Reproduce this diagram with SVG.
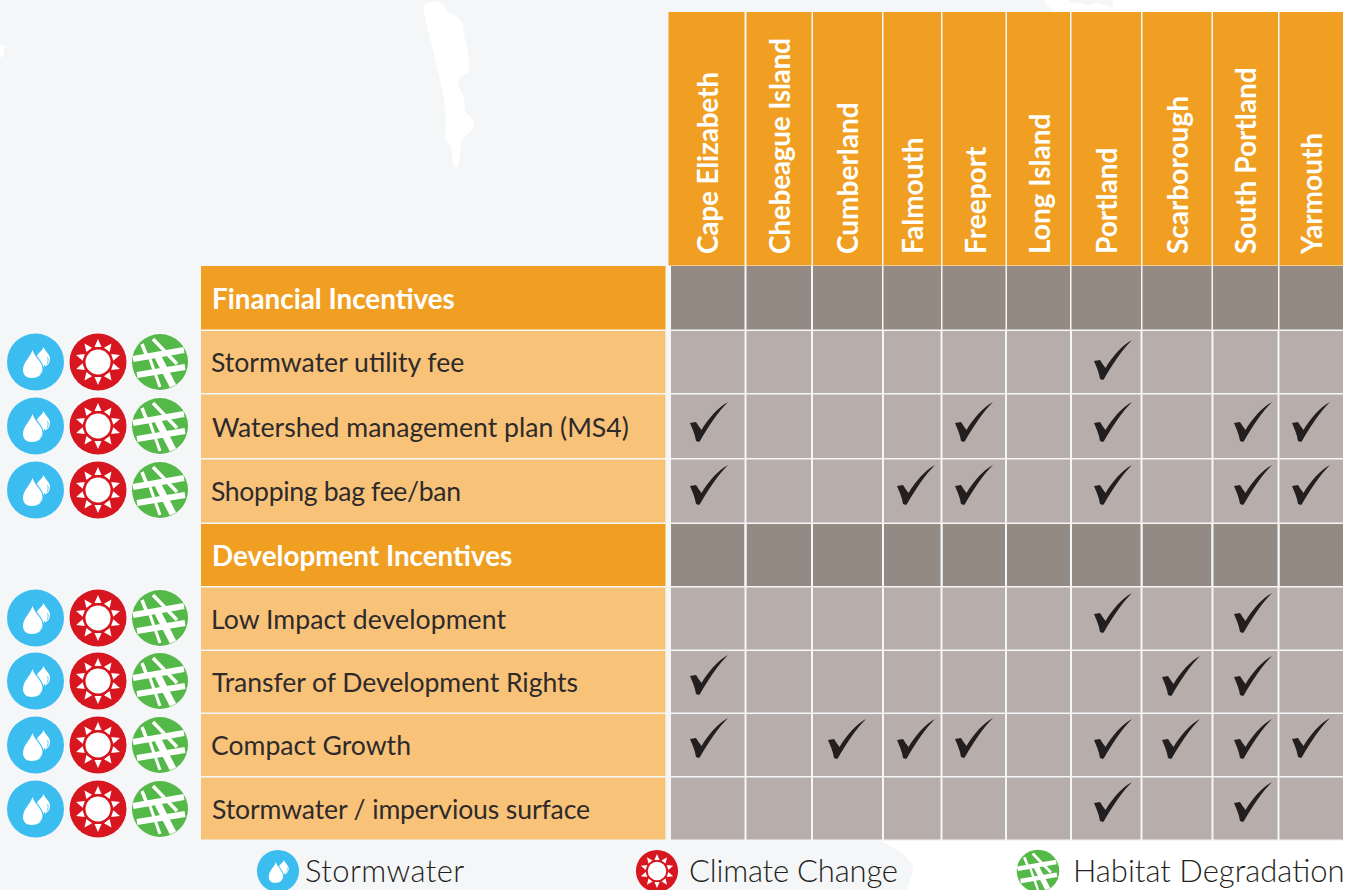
<svg xmlns="http://www.w3.org/2000/svg" xmlns:xlink="http://www.w3.org/1999/xlink" width="1353" height="890" viewBox="0 0 1353 890">
<style>
.h{fill:#f09f23}.l{fill:#f8c378}.d{fill:#938a83}.c{fill:#b7aeab}
.t{font-family:"Lato","Open Sans",sans-serif;font-size:26.6px;fill:#2e2a2b}
.b{font-family:"Lato","Open Sans",sans-serif;font-size:27.800px;font-weight:700;fill:#fff}
.v{font-family:"Lato","Open Sans",sans-serif;font-size:28px;font-weight:700;fill:#fff}
.g{font-family:"Lato","Open Sans",sans-serif;font-size:31px;font-weight:300;fill:#231f20}
</style>
<defs>
<path id="ck" d="M0 0L6-1C8 2 10 5 11.500 7C18-4 28-16 38-21C28-11 18 4 10 18L9 19L6 18C5 11 2 5 0 0Z" fill="#231f20"/>
<g id="w"><circle r="28.500" fill="#3bbdf0"/><path d="M-3-12C-5-5-12.500 0-12.500 8C-12.500 13-9 16-4 16C2 16 7 13 7 7C7 0-1-5-3-12Z" fill="#fff"/><path d="M8-15C7-11 2-9 1.500-6C4-3 7 1 8 5C12 4 14.500 1 14.500-3C14.500-8 10-10 8-15Z" fill="#fff"/><path d="M5 12C7.500 10 9 7 9 3M11.500 2C12.800 0 13-3 12-5" fill="none" stroke="#3bbdf0" stroke-width=".8"/></g>
<g id="s"><circle r="28.500" fill="#d7161f"/><circle r="12.500" fill="#fff"/><g fill="#fff"><path id="ray" d="M-3.500-15H3.500L0-23Z"/><use xlink:href="#ray" transform="rotate(36)"/><use xlink:href="#ray" transform="rotate(72)"/><use xlink:href="#ray" transform="rotate(108)"/><use xlink:href="#ray" transform="rotate(144)"/><use xlink:href="#ray" transform="rotate(180)"/><use xlink:href="#ray" transform="rotate(216)"/><use xlink:href="#ray" transform="rotate(252)"/><use xlink:href="#ray" transform="rotate(288)"/><use xlink:href="#ray" transform="rotate(324)"/></g></g>
<g id="h"><circle r="28" fill="#54b948"/><g fill="none" stroke="#fff"><path d="M-27-3L24-12" stroke-width="6"/><path d="M-23 13L25 5" stroke-width="6"/><path d="M-18-18L-12-3" stroke-width="3.500"/><path d="M-10-3L0 25" stroke-width="3"/><path d="M-2-5L13 24" stroke-width="7"/><path d="M-7-23L17 2" stroke-width="3.500"/></g></g>
<g id="tri"><use xlink:href="#w" x="35.500" y="0"/><use xlink:href="#s" x="98" y="0"/><use xlink:href="#h" x="160" y="0"/></g>
</defs>
<rect width="1353" height="890" fill="#fff"/>
<path id="backdrop" fill="#f5f6f8" d="M0 0H1043L1056 14H1343V841H880C890 846 902 850 907 858C910 863 914 864 913 868C913 873 911 876 910 880L907 890H0Z"/>
<path id="backdrop-sliver" fill="#f5f6f8" d="M1068 0H1113V5L1110 8C1102 3 1096 2 1090 5C1085 5 1080 1 1075 3C1072 4 1070 3 1068 0Z"/>
<g id="land" fill="#fff">
<path d="M423 8C426 0 440-2 445 8C447 14 458 15 462 22C464 32 465 42 468 50C469 58 469 70 469 72C463 76 457 78 458 86C463 92 465 100 465 110C468 116 475 120 474 127C470 134 462 136 461 145C460 155 459 168 456 168C451 165 452 155 452 148C448 142 445 143 445 135C446 120 446 105 441 85C437 65 430 40 427 25Z"/>
<path d="M0 44L5 47L3 56L0 58Z"/>
</g>
<g id="column-headers">
<rect class="h" x="668.500" y="12" width="76" height="253.500"/><rect class="h" x="746.500" y="12" width="65" height="253.500"/><rect class="h" x="813" y="12" width="69" height="253.500"/><rect class="h" x="883.500" y="12" width="57.500" height="253.500"/><rect class="h" x="942.500" y="12" width="63" height="253.500"/><rect class="h" x="1007" y="12" width="63" height="253.500"/><rect class="h" x="1071.500" y="12" width="69.500" height="253.500"/><rect class="h" x="1142.500" y="12" width="69" height="253.500"/><rect class="h" x="1213" y="12" width="65" height="253.500"/><rect class="h" x="1279.500" y="12" width="63.500" height="253.500"/>
<text class="v" transform="translate(718 254) rotate(-90)" textLength="182">Cape Elizabeth</text>
<text class="v" transform="translate(790 254) rotate(-90)" textLength="216">Chebeague Island</text>
<text class="v" transform="translate(858 254) rotate(-90)">Cumberland</text>
<text class="v" transform="translate(923 254) rotate(-90)">Falmouth</text>
<text class="v" transform="translate(986 254) rotate(-90)">Freeport</text>
<text class="v" transform="translate(1050 254) rotate(-90)">Long Island</text>
<text class="v" transform="translate(1117 254) rotate(-90)">Portland</text>
<text class="v" transform="translate(1188 254) rotate(-90)">Scarborough</text>
<text class="v" transform="translate(1256 254) rotate(-90)">South Portland</text>
<text class="v" transform="translate(1322 254) rotate(-90)">Yarmouth</text>
</g>
<g id="row-labels">
<rect class="h" x="201" y="266" width="464.500" height="63.500"/><rect class="l" x="201" y="331" width="464.500" height="62"/><rect class="l" x="201" y="394.500" width="464.500" height="63.500"/><rect class="l" x="201" y="459.500" width="464.500" height="63"/><rect class="h" x="201" y="524" width="464.500" height="62"/><rect class="l" x="201" y="587.500" width="464.500" height="62"/><rect class="l" x="201" y="651" width="464.500" height="61.500"/><rect class="l" x="201" y="714" width="464.500" height="62"/><rect class="l" x="201" y="777.500" width="464.500" height="62"/>
<text class="b" x="212" y="309">Financial Incentives</text>
<text class="t" x="211" y="372">Stormwater utility fee</text>
<text class="t" x="212" y="437">Watershed management plan (MS4)</text>
<text class="t" x="211" y="501" textLength="250">Shopping bag fee/ban</text>
<text class="b" x="212" y="566">Development Incentives</text>
<text class="t" x="211" y="629" textLength="295">Low Impact development</text>
<text class="t" x="212" y="692" textLength="366">Transfer of Development Rights</text>
<text class="t" x="211" y="755" textLength="200">Compact Growth</text>
<text class="t" x="212" y="819" textLength="378">Stormwater / impervious surface</text>
</g>
<g id="grid">
<path class="d" d="M671 266H744.500V329.500H671ZM746.500 266H811V329.500H746.500ZM813 266H882V329.500H813ZM883.500 266H941V329.500H883.500ZM942.500 266H1005.500V329.500H942.500ZM1007 266H1070V329.500H1007ZM1071.500 266H1141V329.500H1071.500ZM1142.500 266H1211.500V329.500H1142.500ZM1213 266H1278V329.500H1213ZM1279.500 266H1343V329.500H1279.500ZM671 524H744.500V586H671ZM746.500 524H811V586H746.500ZM813 524H882V586H813ZM883.500 524H941V586H883.500ZM942.500 524H1005.500V586H942.500ZM1007 524H1070V586H1007ZM1071.500 524H1141V586H1071.500ZM1142.500 524H1211.500V586H1142.500ZM1213 524H1278V586H1213ZM1279.500 524H1343V586H1279.500Z"/>
<path class="c" d="M671 331H1343V393H671ZM671 394.500H1343V458H671ZM671 459.500H1343V522.500H671ZM671 587.500H1343V649.500H671ZM671 651H1343V712.500H671ZM671 714H1343V776H671ZM671 777.500H1343V839.500H671Z"/>
<path stroke="#f5f6f8" stroke-width="2" d="M745.500 331V840M812 331V840M883 331V840M941.500 331V840M1006 331V840M1071 331V840M1141.500 331V840M1212.500 331V840M1278.500 331V840"/>
</g>
<g id="checks">
<use xlink:href="#ck" x="1094" y="361"/>
<use xlink:href="#ck" x="690" y="423"/><use xlink:href="#ck" x="955" y="423"/><use xlink:href="#ck" x="1094" y="423"/><use xlink:href="#ck" x="1234" y="423"/><use xlink:href="#ck" x="1292" y="423"/>
<use xlink:href="#ck" x="690" y="486"/><use xlink:href="#ck" x="897" y="486"/><use xlink:href="#ck" x="955" y="486"/><use xlink:href="#ck" x="1094" y="486"/><use xlink:href="#ck" x="1234" y="486"/><use xlink:href="#ck" x="1292" y="486"/>
<use xlink:href="#ck" x="1094" y="614"/><use xlink:href="#ck" x="1234" y="614"/>
<use xlink:href="#ck" x="690" y="676"/><use xlink:href="#ck" x="1162" y="677"/><use xlink:href="#ck" x="1234" y="677"/>
<use xlink:href="#ck" x="690" y="739"/><use xlink:href="#ck" x="828" y="740"/><use xlink:href="#ck" x="897" y="740"/><use xlink:href="#ck" x="955" y="739"/><use xlink:href="#ck" x="1094" y="740"/><use xlink:href="#ck" x="1162" y="740"/><use xlink:href="#ck" x="1234" y="740"/><use xlink:href="#ck" x="1292" y="739"/>
<use xlink:href="#ck" x="1094" y="803"/><use xlink:href="#ck" x="1234" y="803"/>
</g>
<g id="row-icons">
<use xlink:href="#tri" y="362"/><use xlink:href="#tri" y="426"/><use xlink:href="#tri" y="490"/><use xlink:href="#tri" y="618"/><use xlink:href="#tri" y="681"/><use xlink:href="#tri" y="745"/><use xlink:href="#tri" y="809"/>
</g>
<g id="legend">
<g id="legend-stormwater"><use xlink:href="#w" transform="translate(278 871) scale(.74)"/><text class="g" x="305" y="882" style="letter-spacing:.4px">Stormwater</text></g>
<g id="legend-climate"><use xlink:href="#s" transform="translate(657 871) scale(.74)"/><text class="g" x="689" y="882" textLength="209">Climate Change</text></g>
<g id="legend-habitat"><use xlink:href="#h" transform="translate(1038 871) scale(.76)"/><text class="g" x="1073" y="882">Habitat Degradation</text></g>
</g>
</svg>
